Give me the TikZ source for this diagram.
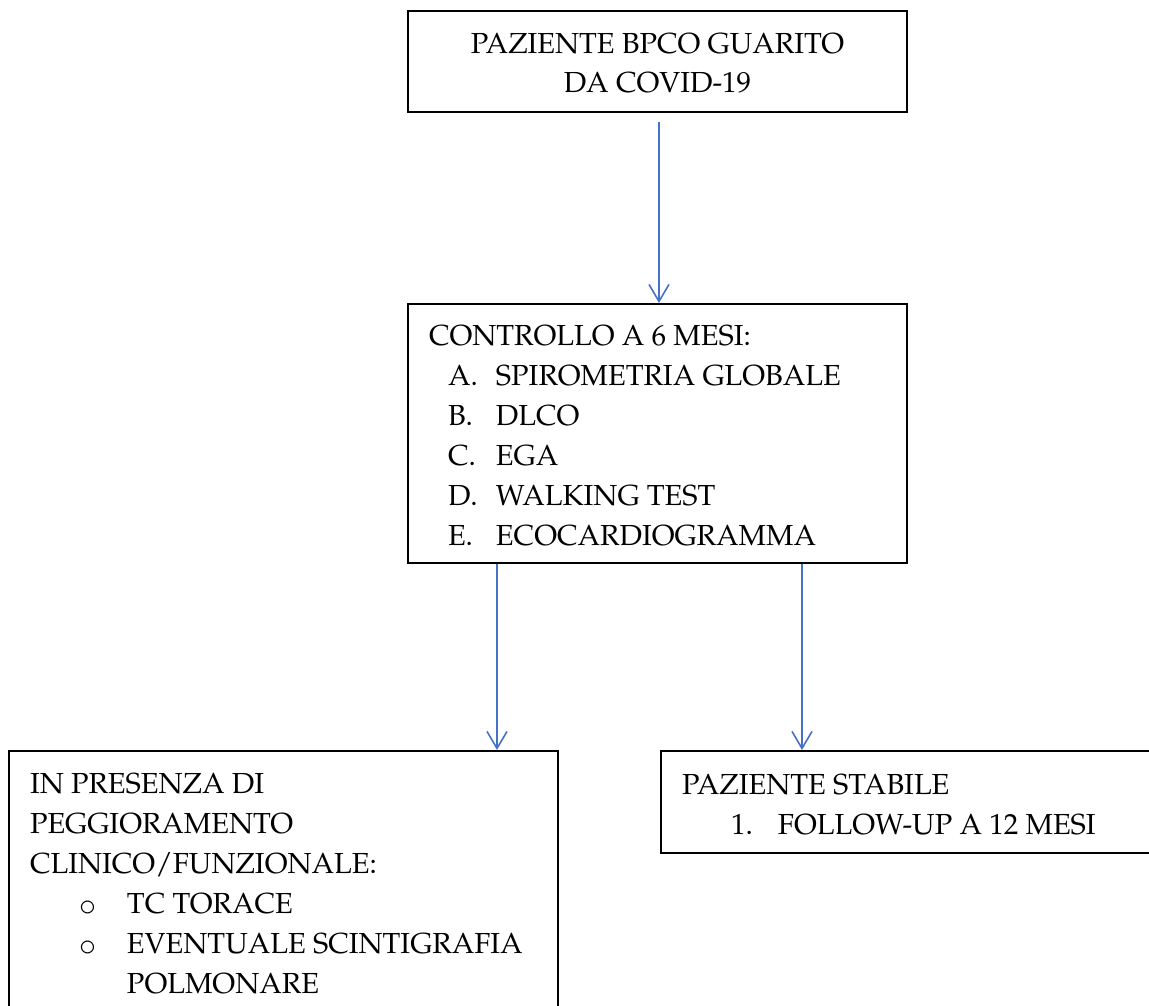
\documentclass[tikz,border=0pt]{standalone}
\usepackage[T1]{fontenc}
\usepackage{mathpazo}
\usetikzlibrary{arrows.meta}
\definecolor{wordblue}{RGB}{68,114,196}
\begin{document}
\begin{tikzpicture}[
      x=1pt, y=-1pt,
      box/.style={draw, line width=2pt, inner sep=0pt, anchor=north west,
        font=\fontsize{29}{40}\selectfont},
      arrow/.style={draw=wordblue, line width=1.6pt,
        -{Straight Barb[length=17pt,width=20pt]}}
    ]
    \useasboundingbox (0,0) rectangle (1149,1006);
    \clip (0,0) rectangle (1149,1006);
    \node[box] (bpco) at (407,10) {\parbox[t][101pt][t]{499pt}{\centering
      \rule{0pt}{43pt}PAZIENTE BPCO GUARITO\\[-1pt]
      DA COVID-19}};
    \node[box] (controllo) at (407,303) {\parbox[t][259pt][t]{499pt}{\leftskip=21pt
      \rule{0pt}{41pt}CONTROLLO A 6 MESI:\\
      \hspace*{19pt}\makebox[48pt][l]{A.}SPIROMETRIA GLOBALE\\
      \hspace*{19pt}\makebox[48pt][l]{B.}DLCO\\
      \hspace*{19pt}\makebox[48pt][l]{C.}EGA\\
      \hspace*{19pt}\makebox[48pt][l]{D.}WALKING TEST\\
      \hspace*{19pt}\makebox[48pt][l]{E.}ECOCARDIOGRAMMA}};
    \node[box] (peggio) at (8,750) {\parbox[t][300pt][t]{549pt}{\leftskip=21pt
      \rule{0pt}{42pt}IN PRESENZA DI\\
      PEGGIORAMENTO\\
      CLINICO/FUNZIONALE:\\
      \hspace*{49pt}\makebox[48pt][l]{\fontfamily{pcr}\selectfont o}TC TORACE\\
      \hspace*{49pt}\makebox[48pt][l]{\fontfamily{pcr}\selectfont o}EVENTUALE SCINTIGRAFIA\\
      \hspace*{97pt}POLMONARE}};
    \node[box] (stabile) at (660,750) {\parbox[t][102pt][t]{520pt}{\leftskip=21pt
      \rule{0pt}{43pt}PAZIENTE STABILE\\
      \hspace*{49pt}\makebox[47pt][l]{1.}FOLLOW-UP A 12 MESI}};
    \draw[arrow] ([xshift=1.5pt,yshift=-9pt]bpco.south) -- ([xshift=1.5pt]controllo.north);
    \draw[arrow] ([xshift=90pt]controllo.south west) -- ([xshift=489pt]peggio.north west);
    \draw[arrow] ([xshift=395pt]controllo.south west) -- ([xshift=142pt]stabile.north west);
\end{tikzpicture}
\end{document}
